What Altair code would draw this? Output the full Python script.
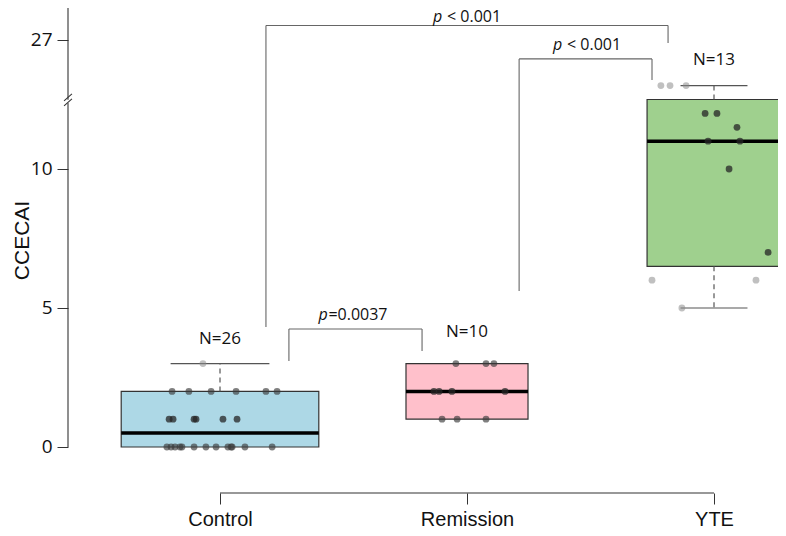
import json
import altair as alt
import pandas as pd

# ---------------- data ----------------
categories = ["Control", "Remission", "YTE"]
group_sizes = [26, 10, 13]
box_colors = ["#add8e6", "#ffc0cb", "#9fd08e"]

# box statistics (CCECAI units)
whisker_low = [0, 1, 5]
q1 = [0, 1, 6.5]
median = [0.5, 2, 11]
q3 = [2, 3, 12.5]
whisker_high = [3, 3, 13]

# individual observations and their horizontal jitter (category units)
control_values = [3, 2, 2, 2, 2, 2, 2, 1, 1, 1, 1, 1, 1,
                  0, 0, 0, 0, 0, 0, 0, 0, 0, 0, 0, 0, 0]
control_jitter = [-0.069, -0.194, -0.126, -0.036, 0.065, 0.186, 0.231,
                  -0.206, -0.190, -0.105, -0.097, 0.012, 0.069,
                  -0.215, -0.198, -0.182, -0.162, -0.154, -0.105, -0.057,
                  -0.016, 0.032, 0.045, 0.049, 0.101, 0.211]
remission_values = [3, 3, 3, 2, 2, 2, 2, 1, 1, 1]
remission_jitter = [-0.045, 0.077, 0.109, -0.134, -0.113, -0.061, 0.154,
                    -0.101, -0.040, 0.077]
yte_values = [13, 13, 13, 12, 12, 11.5, 11, 11, 10, 7, 6, 6, 5]
yte_jitter = [-0.215, -0.178, -0.113, -0.036, 0.012, 0.093, -0.024, 0.105,
              0.061, 0.219, -0.251, 0.170, -0.130]

# upper axis segment (after the break): label "27"
upper_tick_label = "27"

# significance brackets: p-text, left x, right x, top, left-leg bottom, right-leg bottom
p_texts = ["< 0.001", "< 0.001", "=0.0037"]
p_has_space = [True, True, False]
bracket_left = [0.186, 1.211, 0.279]
bracket_right = [1.814, 1.749, 0.818]
bracket_top = [15.16, 13.96, 4.245]
bracket_left_bottom = [4.32, 5.61, 3.09]
bracket_right_bottom = [14.53, 13.20, 3.45]
p_label_x = [1.0, 1.486, 0.538]
p_label_y = [15.29, 14.28, 4.57]

n_label_y = [3.71, 3.96, 13.74]

# ---------------- layout constants ----------------
X_MIN, X_MAX = -0.6154, 2.2591
Y_MIN, Y_MAX = -1.6547, 15.791
Y_UPPER_TICK = 14.64
box_half = [0.40, 0.247, 0.271]

xscale = alt.Scale(domain=[X_MIN, X_MAX], nice=False, zero=False)
yscale = alt.Scale(domain=[Y_MIN, Y_MAX], nice=False, zero=False)

labels_expr = json.dumps(categories) + "[datum.value]"
XAXIS = alt.Axis(
    values=[0, 1, 2], labelExpr=labels_expr, tickSize=11, tickColor="#333333",
    domain=False, grid=False, title=None, labelFont="Liberation Sans",
    labelFontSize=20, labelColor="#111111", labelPadding=5)
YAXIS = alt.Axis(
    values=[0, 5, 10, Y_UPPER_TICK],
    labelExpr=f"datum.value > 14 ? '{upper_tick_label}' : datum.label",
    tickSize=11, tickColor="#333333", domain=False, grid=False,
    labelFont="Open Sans", labelFontSize=19, labelColor="#111111", labelPadding=5,
    title="CCECAI", titleFont="Liberation Sans", titleFontSize=21,
    titleFontWeight="normal", titleColor="#111111", titleX=-36, titleY=232)


def X(field):
    return alt.X(field, scale=xscale, axis=XAXIS)


def Y(field):
    return alt.Y(field, scale=yscale, axis=YAXIS)


# ---------------- tables ----------------
boxes = pd.DataFrame({
    "group": categories,
    "pos": [0, 1, 2],
    "x_lo": [i - h for i, h in enumerate(box_half)],
    "x_hi": [i + h for i, h in enumerate(box_half)],
    "cap_lo": [i - h / 2 for i, h in enumerate(box_half)],
    "cap_hi": [i + h / 2 for i, h in enumerate(box_half)],
    "q1": q1, "median": median, "q3": q3,
    "wlo": whisker_low, "whi": whisker_high,
    "fill": box_colors,
    "n_label": [f"N={n}" for n in group_sizes],
    "n_y": n_label_y,
})

rows = []
for gi, (vals, jit) in enumerate([(control_values, control_jitter),
                                  (remission_values, remission_jitter),
                                  (yte_values, yte_jitter)]):
    for v, j in zip(vals, jit):
        if q1[gi] < v < q3[gi]:
            col, op = "#262626", 0.75
        elif v == q1[gi] or v == q3[gi]:
            col, op = "#3a3a3a", 0.65
        else:
            col, op = "#8c8c8c", 0.55
        rows.append({"group": categories[gi], "value": v, "xpos": gi + j,
                     "pcol": col, "pop": op})
points = pd.DataFrame(rows)

upper_whisk = boxes[boxes["whi"] > boxes["q3"]]
lower_whisk = boxes[boxes["wlo"] < boxes["q1"]]

seg_rows = []
for i in range(len(p_texts)):
    seg_rows.append({"x": bracket_left[i], "x2": bracket_right[i], "y": bracket_top[i], "y2": bracket_top[i]})
    seg_rows.append({"x": bracket_left[i], "x2": bracket_left[i], "y": bracket_left_bottom[i], "y2": bracket_top[i]})
    seg_rows.append({"x": bracket_right[i], "x2": bracket_right[i], "y": bracket_right_bottom[i], "y2": bracket_top[i]})
segments = pd.DataFrame(seg_rows)

plabels = pd.DataFrame({"x": p_label_x, "y": p_label_y, "rest": p_texts, "space": p_has_space})

# ---------------- layers ----------------
box_layer = alt.Chart(boxes).mark_rect(stroke="#333333", strokeWidth=1.2).encode(
    x=X("x_lo:Q"), x2="x_hi:Q", y=Y("q1:Q"), y2="q3:Q",
    fill=alt.Fill("fill:N", scale=None),
)

whisk_up = alt.Chart(upper_whisk).mark_rule(color="#555555", strokeDash=[5, 4], strokeWidth=1.2).encode(
    x=X("pos:Q"), y=Y("q3:Q"), y2="whi:Q")
whisk_dn = alt.Chart(lower_whisk).mark_rule(color="#555555", strokeDash=[5, 4], strokeWidth=1.2).encode(
    x=X("pos:Q"), y=Y("q1:Q"), y2="wlo:Q")
cap_up = alt.Chart(upper_whisk).mark_rule(color="#555555", strokeWidth=1.2).encode(
    x=X("cap_lo:Q"), x2="cap_hi:Q", y=Y("whi:Q"))
cap_dn = alt.Chart(lower_whisk).mark_rule(color="#555555", strokeWidth=1.2).encode(
    x=X("cap_lo:Q"), x2="cap_hi:Q", y=Y("wlo:Q"))
med = alt.Chart(boxes).mark_rule(color="black", strokeWidth=3.5).encode(
    x=X("x_lo:Q"), x2="x_hi:Q", y=Y("median:Q"))

pts = alt.Chart(points).mark_circle(size=46).encode(
    x=X("xpos:Q"), y=Y("value:Q"),
    color=alt.Color("pcol:N", scale=None),
    opacity=alt.Opacity("pop:Q", scale=None),
)

n_text = alt.Chart(boxes).mark_text(font="Open Sans", fontSize=17, color="#111111",
                                    baseline="alphabetic", align="center").encode(
    x=X("pos:Q"), y=Y("n_y:Q"), text="n_label:N")

brackets = alt.Chart(segments).mark_rule(color="#666666", strokeWidth=1.1).encode(
    x=X("x:Q"), x2="x2:Q", y=Y("y:Q"), y2="y2:Q")

p_spaced = plabels[plabels["space"]]
p_tight = plabels[~plabels["space"]]
p_italic_a = alt.Chart(p_spaced).mark_text(font="Open Sans", fontSize=16, fontStyle="italic",
                                           align="left", baseline="alphabetic", dx=-34, color="#111111").encode(
    x=X("x:Q"), y=Y("y:Q"), text=alt.value("p"))
p_rest_a = alt.Chart(p_spaced).mark_text(font="Open Sans", fontSize=16, align="left",
                                         baseline="alphabetic", dx=-20, color="#111111").encode(
    x=X("x:Q"), y=Y("y:Q"), text="rest:N")
p_italic_b = alt.Chart(p_tight).mark_text(font="Open Sans", fontSize=16, fontStyle="italic",
                                          align="left", baseline="alphabetic", dx=-34.5, color="#111111").encode(
    x=X("x:Q"), y=Y("y:Q"), text=alt.value("p"))
p_rest_b = alt.Chart(p_tight).mark_text(font="Open Sans", fontSize=16, align="left",
                                        baseline="alphabetic", dx=-24.5, color="#111111").encode(
    x=X("x:Q"), y=Y("y:Q"), text="rest:N")

# axis lines drawn by hand (y axis with a break, x axis bracket between first and last group)
axis_lines = pd.DataFrame({
    "x": [X_MIN, 0], "x2": [X_MIN, 2], "y": [0, Y_MIN], "y2": [Y_MAX, Y_MIN]})
axis_layer = alt.Chart(axis_lines).mark_rule(color="#333333", strokeWidth=1.1).encode(
    x=X("x:Q"), x2="x2:Q", y=Y("y:Q"), y2="y2:Q")

gap = pd.DataFrame({"x": [X_MIN], "y": [12.37], "y2": [12.49]})
gap_layer = alt.Chart(gap).mark_rule(color="white", strokeWidth=4).encode(
    x=X("x:Q"), y=Y("y:Q"), y2="y2:Q")
slashes = pd.DataFrame({
    "x": [X_MIN - 0.016, X_MIN - 0.016], "x2": [X_MIN + 0.016, X_MIN + 0.016],
    "y": [12.27, 12.45], "y2": [12.52, 12.70]})
slash_layer = alt.Chart(slashes).mark_rule(color="#333333", strokeWidth=1.1).encode(
    x=X("x:Q"), x2="x2:Q", y=Y("y:Q"), y2="y2:Q")

chart = alt.layer(
    box_layer, whisk_up, whisk_dn, cap_up, cap_dn, med, pts, n_text, brackets,
    p_italic_a, p_rest_a, p_italic_b, p_rest_b, axis_layer, gap_layer, slash_layer
).properties(
    width=710, height=485,
    autosize=alt.AutoSizeParams(type="none"),
    padding={"left": 60, "top": 0, "right": 0, "bottom": 35},
    background="white",
).configure_view(stroke=None)

chart.save("out.html", embed_options={"renderer": "svg", "actions": False})
